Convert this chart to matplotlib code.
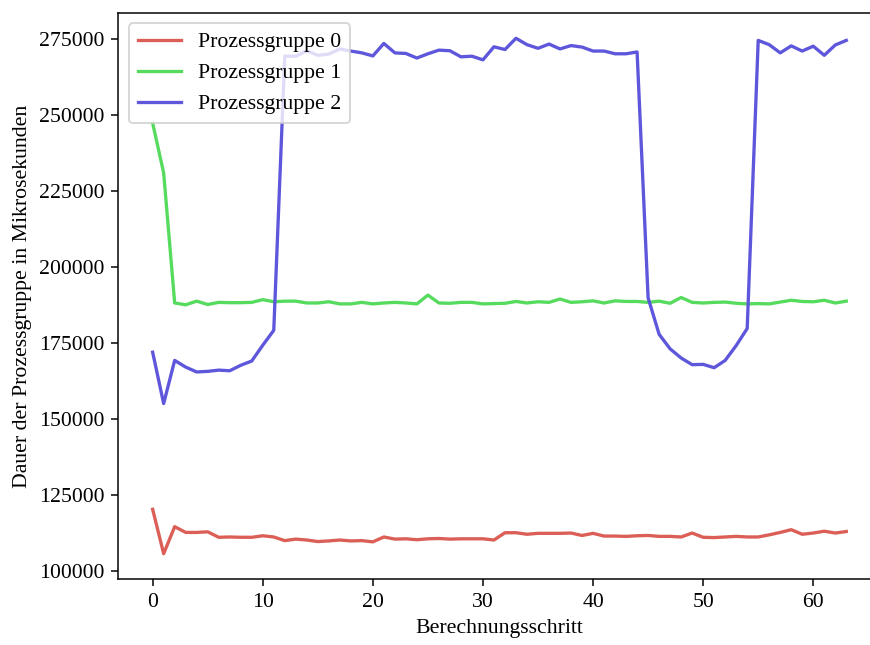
import matplotlib
matplotlib.use("Agg")
import matplotlib.pyplot as plt
import seaborn as sns

plt.rcParams["font.family"] = ["Liberation Serif", "DejaVu Serif"]

steps = list(range(64))

gruppe_0 = [120400, 105800, 114700, 112800, 112800, 113000, 111200, 111300, 111200, 111200,
            111700, 111300, 110100, 110600, 110300, 109800, 110000, 110300, 110000, 110100,
            109700, 111300, 110600, 110700, 110400, 110700, 110800, 110600, 110700, 110700,
            110700, 110300, 112700, 112700, 112200, 112500, 112500, 112500, 112600, 111800,
            112500, 111600, 111600, 111500, 111700, 111800, 111500, 111500, 111300, 112600,
            111200, 111100, 111300, 111500, 111300, 111300, 112000, 112800, 113700, 112200,
            112600, 113200, 112600, 113100]

gruppe_1 = [247500, 231100, 188300, 187700, 188900, 187800, 188500, 188400, 188400, 188500,
            189400, 188700, 188900, 188900, 188300, 188300, 188700, 188000, 188000, 188500,
            188000, 188300, 188500, 188300, 188000, 190900, 188300, 188200, 188500, 188500,
            188000, 188100, 188200, 188800, 188300, 188700, 188500, 189600, 188500, 188700,
            189000, 188300, 189000, 188800, 188800, 188500, 188900, 188200, 190100, 188500,
            188300, 188500, 188600, 188200, 188000, 188100, 188000, 188600, 189200, 188800,
            188700, 189200, 188300, 188900]

gruppe_2 = [172100, 155200, 169400, 167200, 165600, 165800, 166200, 166000, 167800, 169200,
            174400, 179300, 269500, 269500, 271300, 269800, 270200, 271900, 271200, 270600,
            269600, 273700, 270600, 270400, 268900, 270300, 271500, 271300, 269300, 269500,
            268300, 272600, 271700, 275400, 273300, 272100, 273500, 271900, 273000, 272500,
            271200, 271200, 270300, 270300, 270900, 190000, 178000, 173200, 170200, 168000,
            168100, 167000, 169400, 174300, 179900, 274700, 273300, 270600, 272900, 271200,
            272800, 269800, 273200, 274700]

labels = ["Prozessgruppe 0", "Prozessgruppe 1", "Prozessgruppe 2"]
colors = sns.color_palette("hls", 3)

fig = plt.figure(figsize=(870 / 136, 645 / 136), dpi=136)
ax = fig.add_axes([0.1356, 0.1016, 0.877, 0.879])
for values, label, color in zip([gruppe_0, gruppe_1, gruppe_2], labels, colors):
    ax.plot(steps, values, label=label, color=color, linewidth=1.75)

ax.set_xlabel("Berechnungsschritt", fontsize=11.5)
ax.set_ylabel("Dauer der Prozessgruppe in Mikrosekunden", fontsize=11.5)
ax.tick_params(labelsize=11.5)
ax.legend(loc="upper left", fontsize=11.5)

fig.savefig("out.png", dpi=136)
